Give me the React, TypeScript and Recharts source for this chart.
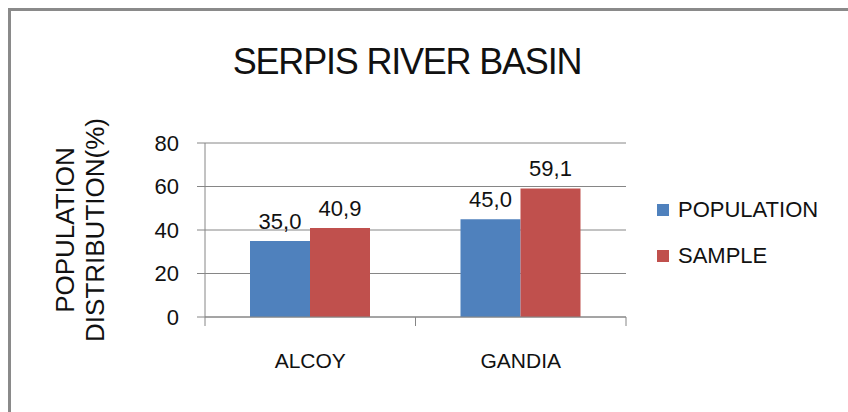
import { Bar, BarChart, CartesianGrid, LabelList, Legend, XAxis, YAxis } from "recharts";

const categories = ["ALCOY", "GANDIA"];
const population = [35.0, 45.0];
const sample = [40.9, 59.1];
const yTicks = [0, 20, 40, 60, 80];

const seriesNames = { population: "POPULATION", sample: "SAMPLE" };
const colors = { population: "#4F81BD", sample: "#C0504D" };

const W = 848;
const H = 412;
const Y_W = 60;
const MARGIN = { top: 143, right: 222, bottom: 55, left: 145 };
const PLOT_W = W - MARGIN.left - Y_W - MARGIN.right;
const AXIS_GRAY = "#868686";
const FONT = "'Liberation Sans', Arial, sans-serif";

const data = categories.map((name, i) => ({
  name,
  population: population[i],
  sample: sample[i],
}));

const fmt = (v: any) => Number(v).toFixed(1).replace(".", ",");

function XTick(props: any) {
  const { x, y, payload, index } = props;
  const band = PLOT_W / categories.length;
  const last = index === categories.length - 1;
  return (
    <g>
      <line x1={x - band / 2} x2={x - band / 2} y1={y} y2={y + 9} stroke={AXIS_GRAY} />
      {last && <line x1={x + band / 2} x2={x + band / 2} y1={y} y2={y + 9} stroke={AXIS_GRAY} />}
      <text x={x} y={y + 51} textAnchor="middle" fontSize={21} fontFamily={FONT} fill="#111">
        {payload.value}
      </text>
    </g>
  );
}

function LegendBox(props: any) {
  const items = props.payload || [];
  return (
    <div style={{ fontFamily: FONT, fontSize: 22, color: "#111" }}>
      {items.map((it: any) => (
        <div key={it.value} style={{ display: "flex", alignItems: "center", height: 46 }}>
          <span style={{ display: "inline-block", width: 12, height: 12, background: it.color, marginRight: 9 }} />
          <span>{it.value}</span>
        </div>
      ))}
    </div>
  );
}

export default function App() {
  return (
    <div style={{ position: "absolute", left: 0, top: 0, width: W, height: H, overflow: "hidden", background: "#fff" }}>
      <div
        style={{
          position: "absolute",
          left: 8,
          top: 8,
          width: W,
          height: H,
          borderTop: "3px solid #8a8a8a",
          borderLeft: "3px solid #8a8a8a",
        }}
      />
      <div
        style={{
          position: "absolute",
          left: 157,
          top: 43.5,
          width: 500,
          textAlign: "center",
          fontFamily: FONT,
          fontSize: 36,
          lineHeight: "36px",
          letterSpacing: -1.2,
          color: "#111",
          whiteSpace: "nowrap",
        }}
      >
        SERPIS RIVER BASIN
      </div>
      <div
        style={{
          position: "absolute",
          left: 80 - 130,
          top: 230 - 30,
          width: 260,
          height: 60,
          transform: "rotate(-90deg)",
          textAlign: "center",
          fontFamily: FONT,
          fontSize: 26,
          lineHeight: "30px",
          color: "#111",
          whiteSpace: "nowrap",
        }}
      >
        POPULATION
        <br />
        DISTRIBUTION(%)
      </div>
      <div style={{ position: "absolute", left: 0, top: 0 }}>
        <BarChart width={W} height={H} data={data} margin={MARGIN} barCategoryGap={45} barGap={0}>
          <CartesianGrid vertical={false} stroke={AXIS_GRAY} />
          <XAxis
            dataKey="name"
            height={40}
            axisLine={{ stroke: AXIS_GRAY }}
            tickLine={false}
            tickSize={0}
            tickMargin={0}
            tick={<XTick />}
            interval={0}
          />
          <YAxis
            width={Y_W}
            domain={[0, 80]}
            ticks={yTicks}
            interval={0}
            axisLine={{ stroke: AXIS_GRAY }}
            tickLine={{ stroke: AXIS_GRAY }}
            tickSize={8}
            tickMargin={18}
            tick={{ fontSize: 22, fontFamily: FONT, fill: "#111" }}
          />
          <Legend
            layout="horizontal"
            verticalAlign="middle"
            content={<LegendBox />}
            wrapperStyle={{ left: 657, top: 187, width: 180 }}
          />
          <Bar dataKey="population" name={seriesNames.population} fill={colors.population} isAnimationActive={false}>
            <LabelList dataKey="population" position="top" offset={12} formatter={fmt} fontSize={22} fontFamily={FONT} fill="#111" />
          </Bar>
          <Bar dataKey="sample" name={seriesNames.sample} fill={colors.sample} isAnimationActive={false}>
            <LabelList dataKey="sample" position="top" offset={12} formatter={fmt} fontSize={22} fontFamily={FONT} fill="#111" />
          </Bar>
        </BarChart>
      </div>
    </div>
  );
}
